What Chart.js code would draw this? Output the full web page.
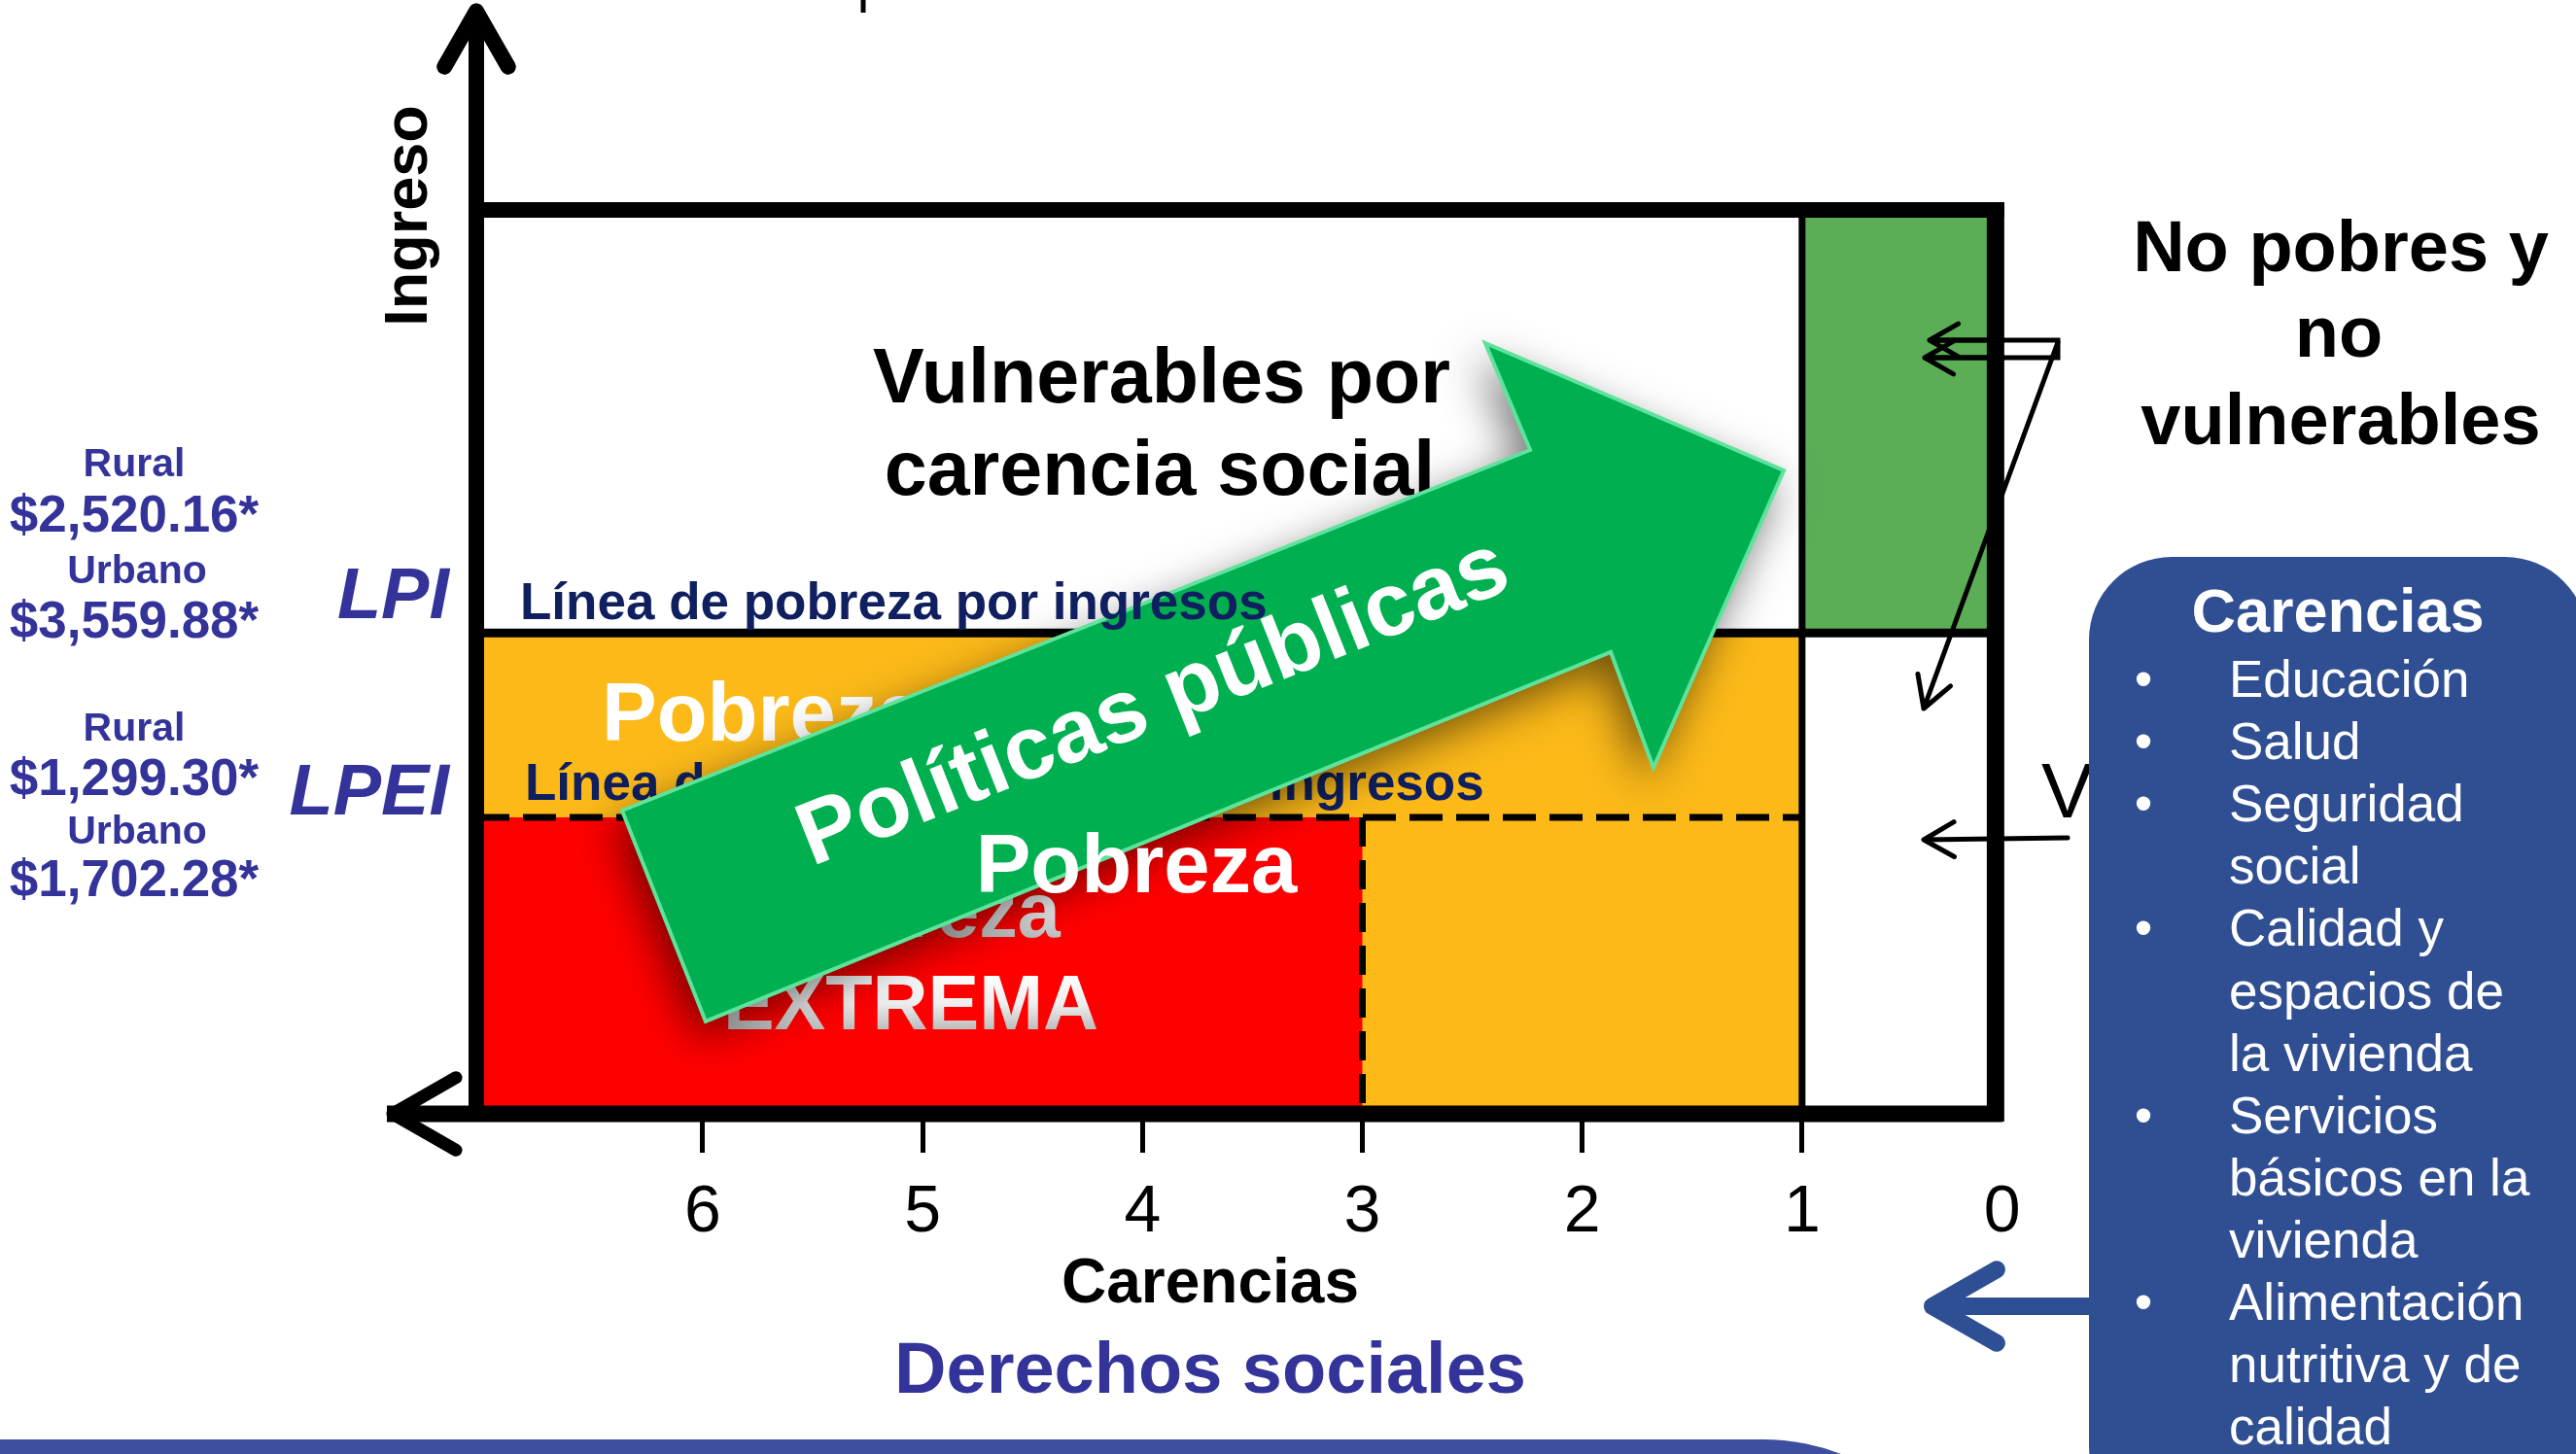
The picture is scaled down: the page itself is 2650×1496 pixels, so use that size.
<!DOCTYPE html>
<html lang="es">
<head>
<meta charset="utf-8">
<title>Medición multidimensional de la pobreza</title>
<script src="https://cdn.jsdelivr.net/npm/chart.js@4.4.1/dist/chart.umd.min.js"></script>
<style>
  html, body { margin: 0; padding: 0; background: #fff; }
  #wrap { width: 2650px; height: 1496px; position: relative; }
</style>
</head>
<body>
<div id="wrap"><canvas id="pobrezaChart"></canvas></div>
<script>
// eje x: número de carencias sociales (invertido), eje y: ingreso (escala relativa)
const carencias = [6, 5, 4, 3, 2, 1, 0];
const lineas = ['LPI', 'LPEI'];
const lineasIngreso = [53.2, 32.8];
const lineasNombre = ['Línea de pobreza por ingresos', 'Línea de pobreza extrema por ingresos'];
const lineasRural = ['$2,520.16*', '$1,299.30*'];
const lineasUrbano = ['$3,559.88*', '$1,702.28*'];

// cuadrantes: desde/hasta en carencias y en ingreso
const cuadrantes = ['No pobres y no vulnerables', 'Vulnerables por carencia social', 'Pobreza', 'Pobreza extrema', 'Vulnerables por ingreso'];
const cuadCarDesde = [1, 7.03, 7.03, 7.03, 1];
const cuadCarHasta = [0.12, 1, 1, 3, 0.12];
const cuadIngDesde = [53.2, 53.2, 0, 0, 0];
const cuadIngHasta = [100, 100, 53.2, 32.8, 53.2];

const listaCarencias = ['Educación', 'Salud', 'Seguridad social', 'Calidad y espacios de la vivienda',
  'Servicios básicos en la vivienda', 'Alimentación nutritiva y de calidad'];

const cellColors = ['#5bad56', '#ffffff', '#fcb918', '#ff0000', '#ffffff'];
const FONT = "'Liberation Sans', Arial, sans-serif";

function line(ctx, pts, w, color, dash) {
  ctx.save();
  ctx.strokeStyle = color || '#000';
  ctx.lineWidth = w;
  ctx.lineCap = 'butt';
  if (dash) ctx.setLineDash(dash);
  ctx.beginPath();
  pts.forEach((p, i) => i ? ctx.lineTo(p[0], p[1]) : ctx.moveTo(p[0], p[1]));
  ctx.stroke();
  ctx.restore();
}

function arrow(ctx, x0, y0, x1, y1, w, head, color) {
  const a = Math.atan2(y1 - y0, x1 - x0);
  ctx.save();
  ctx.strokeStyle = color || '#000';
  ctx.lineWidth = w;
  ctx.lineCap = 'round';
  ctx.lineJoin = 'round';
  ctx.beginPath();
  ctx.moveTo(x0, y0); ctx.lineTo(x1, y1);
  ctx.moveTo(x1 - head * Math.cos(a - 0.52), y1 - head * Math.sin(a - 0.52));
  ctx.lineTo(x1, y1);
  ctx.lineTo(x1 - head * Math.cos(a + 0.52), y1 - head * Math.sin(a + 0.52));
  ctx.stroke();
  ctx.restore();
}

function text(ctx, str, x, y, font, color, align) {
  ctx.font = font;
  ctx.fillStyle = color;
  ctx.textAlign = align || 'center';
  ctx.textBaseline = 'alphabetic';
  ctx.fillText(str, x, y);
}

function silver(ctx, y) {
  const g = ctx.createLinearGradient(0, y - 58, 0, y);
  g.addColorStop(0, '#ffffff');
  g.addColorStop(0.55, '#eeeeee');
  g.addColorStop(1, '#bdbdbd');
  return g;
}

function wrap(ctx, str, maxW) {
  const out = [];
  let cur = '';
  str.split(' ').forEach(w => {
    const t = cur ? cur + ' ' + w : w;
    if (cur && ctx.measureText(t).width > maxW) { out.push(cur); cur = w; } else cur = t;
  });
  out.push(cur);
  return out;
}

const diagramPlugin = {
  id: 'diagrama',
  beforeDraw(chart) {
    const { ctx, scales: { x, y } } = chart;
    ctx.save();
    ctx.fillStyle = '#fff';
    ctx.fillRect(0, 0, chart.width, chart.height);
    cuadrantes.forEach((n, i) => {
      const x0 = x.getPixelForValue(cuadCarDesde[i]), x1 = x.getPixelForValue(cuadCarHasta[i]);
      const y0 = y.getPixelForValue(cuadIngDesde[i]), y1 = y.getPixelForValue(cuadIngHasta[i]);
      ctx.fillStyle = cellColors[i];
      ctx.fillRect(Math.min(x0, x1), Math.min(y0, y1), Math.abs(x1 - x0), Math.abs(y1 - y0));
    });
    ctx.restore();
  },
  afterDraw(chart) {
    const { ctx, chartArea, scales: { x, y } } = chart;
    const X = v => x.getPixelForValue(v), Y = v => y.getPixelForValue(v);
    const left = chartArea.left, right = X(0.12), top = Y(100), bottom = Y(0);
    const yLPI = Y(lineasIngreso[0]), yLPEI = Y(lineasIngreso[1]);
    ctx.save();

    // divisiones internas
    line(ctx, [[X(1), top], [X(1), bottom]], 7);
    line(ctx, [[left, yLPI], [right, yLPI]], 9);
    line(ctx, [[left, yLPEI], [X(1), yLPEI]], 7, '#000', [34, 14]);
    line(ctx, [[X(3), yLPEI], [X(3), bottom]], 7, '#000', [30, 14]);

    // textos de cuadrantes
    text(ctx, 'Vulnerables por', 1195, 414, `bold 79px ${FONT}`, '#000');
    text(ctx, 'carencia social', 1193, 509, `bold 79px ${FONT}`, '#000');
    text(ctx, lineasNombre[1], 540, yLPEI - 18, `bold 53px ${FONT}`, '#0f1f5f', 'left');
    text(ctx, 'Pobreza', 619, 762, `bold 85px ${FONT}`, '#fff', 'left');
    text(ctx, 'Pobreza', 937, 964, `bold 79px ${FONT}`, silver(ctx, 964));
    text(ctx, 'EXTREMA', 937, 1059, `bold 79px ${FONT}`, silver(ctx, 1059));

    // marco y ejes
    line(ctx, [[left - 8, top], [right + 9, top]], 16);
    line(ctx, [[right, top - 8], [right, bottom + 8]], 18);
    line(ctx, [[398, bottom], [right + 7, bottom]], 17);
    arrow(ctx, right, bottom, 404, bottom, 13, 75);
    line(ctx, [[left, bottom + 8], [left, Y(121)]], 16);
    arrow(ctx, left, bottom, left, Y(122), 16, 66);
    line(ctx, [[888, 0], [888, 13]], 5);

    // eje y: título y líneas de pobreza
    ctx.save();
    ctx.translate(439, 222);
    ctx.rotate(-Math.PI / 2);
    text(ctx, 'Ingreso', 0, 0, `bold 63px ${FONT}`, '#000');
    ctx.restore();
    const offs = [[-161, -104, -51, 5, -15], [-79, -23, 27, 81, -3]];
    lineas.forEach((l, i) => {
      const yl = Y(lineasIngreso[i]), o = offs[i];
      text(ctx, 'Rural', 138, yl + o[0], `bold 41px ${FONT}`, '#333399');
      text(ctx, lineasRural[i], 138, yl + o[1], `bold 53px ${FONT}`, '#333399');
      text(ctx, 'Urbano', 141, yl + o[2], `bold 41px ${FONT}`, '#333399');
      text(ctx, lineasUrbano[i], 138, yl + o[3], `bold 53px ${FONT}`, '#333399');
      text(ctx, l, 462, yl + o[4], `italic bold 74px ${FONT}`, '#333399', 'right');
    });

    // flecha "Políticas públicas"
    const flecha = [[6.367, 33.55], [2.237, 73.44], [2.441, 85.27], [1.083, 71.18],
      [1.676, 38.28], [1.870, 51.08], [5.987, 10.22]].map(p => [X(p[0]), Y(p[1])]);
    ctx.save();
    ctx.beginPath();
    flecha.forEach((p, i) => i ? ctx.lineTo(p[0], p[1]) : ctx.moveTo(p[0], p[1]));
    ctx.closePath();
    ctx.shadowColor = 'rgba(0,0,0,0.55)';
    ctx.shadowBlur = 45;
    ctx.shadowOffsetX = -8;
    ctx.shadowOffsetY = 16;
    ctx.fillStyle = '#00b050';
    ctx.fill();
    ctx.shadowColor = 'transparent';
    ctx.strokeStyle = '#5fe39c';
    ctx.lineWidth = 4;
    ctx.lineJoin = 'miter';
    ctx.stroke();
    ctx.restore();
    const ang = Math.atan2(flecha[1][1] - flecha[0][1], flecha[1][0] - flecha[0][0]);
    ctx.save();
    ctx.translate(X(3.926), Y(43.98));
    ctx.rotate(ang);
    text(ctx, 'Políticas públicas', 0, 12, `bold 92px ${FONT}`, '#fff');
    ctx.restore();
    text(ctx, 'Pobreza', 1169, 918, `bold 85px ${FONT}`, '#fff');
    text(ctx, lineasNombre[0], 535, yLPI - 14, `bold 53px ${FONT}`, '#0f1f5f', 'left');

    // flechas a la derecha
    line(ctx, [[1985, 350], [2117, 350], [2117, 368], [1981, 368]], 5);
    arrow(ctx, 2060, 350, 1985, 350, 5, 34);
    arrow(ctx, 2060, 368, 1980, 368, 5, 34);
    arrow(ctx, 2117, 352, 1979, 729, 5, 36);
    arrow(ctx, 2127, 862, 1979, 864, 5, 36);
    text(ctx, 'No pobres y', 2408, 279, `bold 74px ${FONT}`, '#000');
    text(ctx, 'no', 2406, 367, `bold 74px ${FONT}`, '#000');
    text(ctx, 'vulnerables', 2408, 457, `bold 74px ${FONT}`, '#000');
    text(ctx, 'V', 2100, 841, `80px ${FONT}`, '#000', 'left');

    // recuadro de carencias
    ctx.fillStyle = '#304f93';
    ctx.beginPath();
    ctx.roundRect(2149, 573, 513, 1000, 85);
    ctx.fill();
    text(ctx, 'Carencias', 2405, 650, `bold 63px ${FONT}`, '#fff');
    ctx.font = `53px ${FONT}`;
    let yy = 717;
    listaCarencias.forEach(item => {
      text(ctx, '•', 2205, yy, `53px ${FONT}`, '#fff');
      ctx.font = `53px ${FONT}`;
      wrap(ctx, item, 325).forEach(t => {
        text(ctx, t, 2293, yy, `53px ${FONT}`, '#fff', 'left');
        ctx.font = `53px ${FONT}`;
        yy += 64.1;
      });
    });
    line(ctx, [[2151, 1344], [1998, 1344]], 18, '#2f4f94');
    arrow(ctx, 2060, 1344, 1988, 1344, 18, 76, '#2f4f94');

    // títulos del eje x
    text(ctx, 'Carencias', 1245, 1340, `bold 64px ${FONT}`, '#000');
    text(ctx, 'Derechos sociales', 1245, 1433, `bold 74px ${FONT}`, '#333399');

    // barra inferior
    ctx.fillStyle = '#3d4f9e';
    ctx.beginPath();
    ctx.roundRect(-300, 1481, 2339, 600, 226);
    ctx.fill();
    ctx.restore();
  }
};

new Chart(document.getElementById('pobrezaChart'), {
  type: 'scatter',
  data: { datasets: [] },
  options: {
    responsive: true,
    maintainAspectRatio: false,
    animation: false,
    layout: { padding: { left: 490, right: 570, top: 216, bottom: 0 } },
    plugins: { legend: { display: false }, tooltip: { enabled: false } },
    scales: {
      x: {
        type: 'linear',
        reverse: true,
        min: 0,
        max: 7.03,
        // la etiqueta 0 queda sobre el borde del cuadro
        afterBuildTicks: s => { s.ticks = carencias.map(v => ({ value: v === 0 ? 0.09 : v })); },
        afterFit: s => { s.height = 350; },
        border: { display: false },
        grid: {
          drawOnChartArea: false,
          drawTicks: true,
          tickLength: 40,
          tickWidth: 5,
          tickColor: c => (c.tick && c.tick.value < 0.5) ? 'rgba(0,0,0,0)' : '#000'
        },
        ticks: {
          autoSkip: false,
          maxRotation: 0,
          padding: 21,
          color: '#000',
          font: { family: FONT, size: 68 },
          callback: v => String(Math.round(v))
        }
      },
      y: { display: false, min: 0, max: 100 }
    }
  },
  plugins: [diagramPlugin]
});
</script>
</body>
</html>
